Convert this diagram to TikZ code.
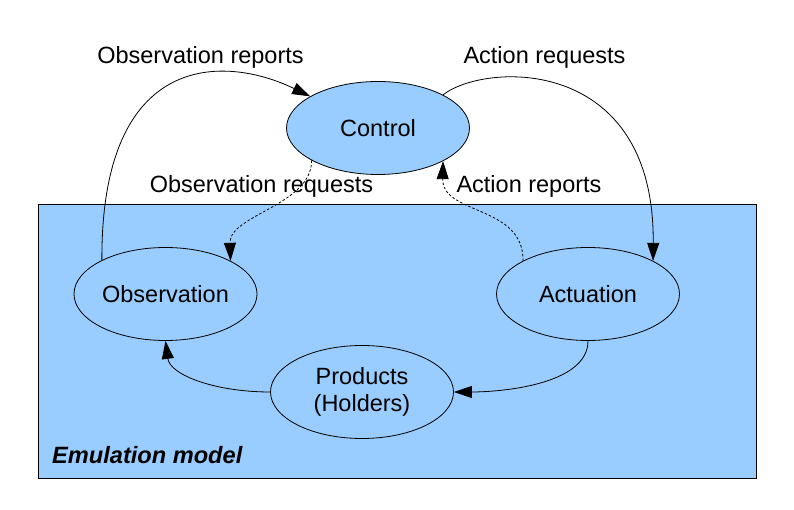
\documentclass[tikz,border=0pt]{standalone}
\usepackage{fontspec}
\setmainfont{Liberation Sans}
\usetikzlibrary{arrows.meta,shapes.geometric}
\definecolor{boxblue}{HTML}{99CCFF}
\begin{document}
\begin{tikzpicture}[x=1pt,y=1pt,
  every node/.style={font=\fontsize{23.5}{27}\selectfont},
  blob/.style={ellipse,draw=black,line width=0.8pt,fill=boxblue,minimum width=183pt,minimum height=93pt,inner sep=0pt,align=center},
  lbl/.style={inner sep=0pt},
  conn/.style={line width=0.8pt,-{Triangle[length=18pt,width=12pt]}},
  dots/.style={conn,dash pattern=on 2.5pt off 2pt}]
\useasboundingbox (0,0) rectangle (794,510);
\fill[white] (0,0) rectangle (794,510);
\draw[line width=1pt,fill=boxblue] (38,31) rectangle (756,305);
\node[lbl,anchor=west,font=\fontsize{23.6}{27}\selectfont\bfseries\itshape] (emu) at (52,55) {Emulation model};
\node[blob] (ctrl) at (378,382) {Control};
\node[blob] (obs) at (165.5,216) {Observation};
\node[blob] (act) at (588,216) {Actuation};
\node[blob] (prod) at (362,118) {Products\\(Holders)};
\node[lbl] (obsrep) at (200.5,453) {Observation reports};
\node[lbl] (actreq) at (544.5,453) {Action requests};
\node[lbl] (obsreq) at (261.5,324) {Observation requests};
\node[lbl] (actrep) at (529,324) {Action reports};
\draw[conn] (obs.152.9) .. controls (101,460) and (225,455) .. (ctrl.155.4);
\draw[conn] (ctrl.27.7) .. controls (485,448) and (655,455) .. (act.27);
\draw[dots] (ctrl.206) .. controls (312,305) and (229,295) .. (obs.27.1);
\draw[dots] (act.153) .. controls (524,305) and (442,295) .. (ctrl.-27);
\draw[conn] (act.south) .. controls (588,125) and (500,118) .. (prod.east);
\draw[conn] (prod.west) .. controls (215,118) and (170,135) .. (obs.south);
\end{tikzpicture}
\end{document}
